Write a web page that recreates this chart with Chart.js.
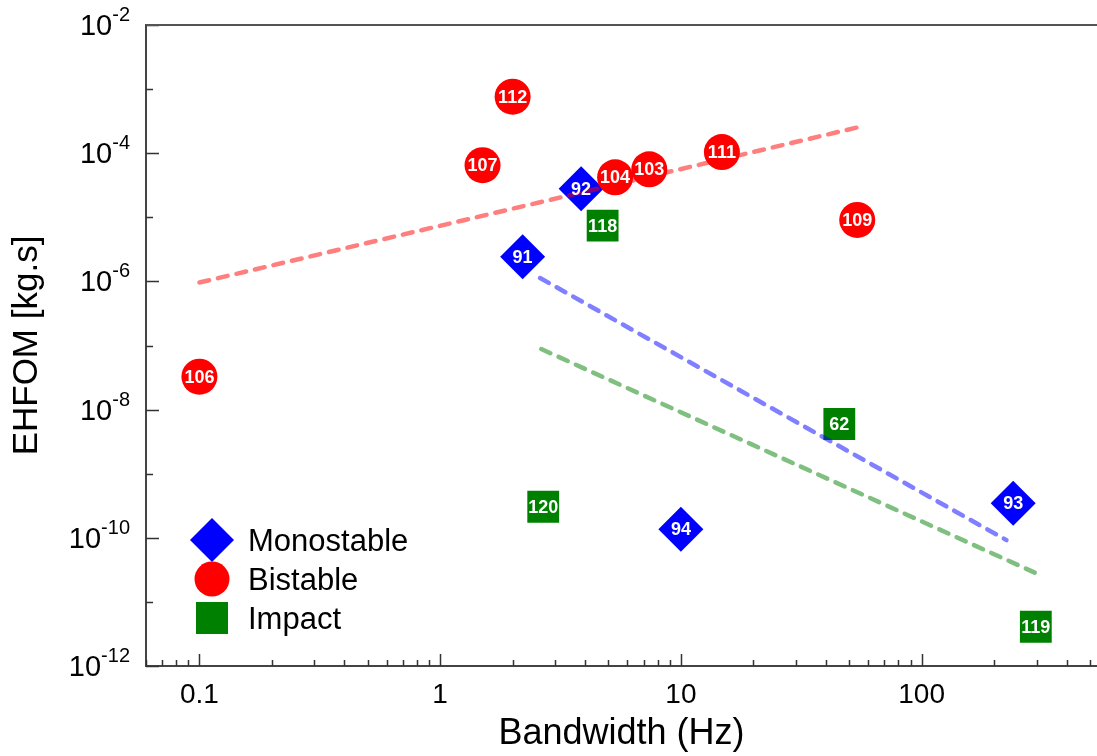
<!DOCTYPE html>
<html>
<head>
<meta charset="utf-8">
<script src="https://cdn.jsdelivr.net/npm/chart.js@4.4.1/dist/chart.umd.min.js"></script>
<style>
html, body { margin: 0; padding: 0; background: #fff; }
canvas { display: block; }
</style>
</head>
<body>
<canvas id="chart" width="1097" height="756"></canvas>
<script>
// ---- data ----
const monoX = [3.85, 2.2, 10, 240];
const monoY = [2.8e-5, 2.43e-6, 1.36e-10, 3.45e-10];
const monoLabels = ['92', '91', '94', '93'];

const biX = [2, 1.5, 7.39, 5.33, 14.8, 54, 0.1];
const biY = [7.6e-4, 6.5e-5, 5.6e-5, 4.2e-5, 1.04e-4, 9.1e-6, 3.26e-8];
const biLabels = ['112', '107', '103', '104', '111', '109', '106'];

const impX = [4.73, 45.5, 2.68, 298];
const impY = [7.4e-6, 5.96e-9, 3.05e-10, 4.1e-12];
const impLabels = ['118', '62', '120', '119'];

// trend lines, end points only
const biFitX = [0.1, 55];
const biFitY = [9.6e-7, 2.56e-4];
const monoFitX = [2.6, 225];
const monoFitY = [1.13e-6, 9.2e-11];
const impFitX = [2.63, 295];
const impFitY = [8.8e-8, 2.86e-11];

const xTickValues = [0.1, 1, 10, 100];
const xTickLabels = ['0.1', '1', '10', '100'];
const yExponents = [-12, -11, -10, -9, -8, -7, -6, -5, -4, -3, -2];
const yLabelEvery = 2;

const legendNames = ['Monostable', 'Bistable', 'Impact'];

const BLUE = '#0000ff', RED = '#ff0000', GREEN = '#008000';
const FONT = "'Liberation Sans', Arial, sans-serif";

function pts(xs, ys){ return xs.map((x, i) => ({ x, y: ys[i] })); }

// ---- helpers ----
function drawShape(ctx, shape, x, y, r, color){
  ctx.save();
  ctx.fillStyle = color;
  ctx.beginPath();
  if(shape === 'circle'){
    ctx.arc(x, y, r, 0, Math.PI * 2);
  } else if(shape === 'rectRot'){
    ctx.moveTo(x, y - r); ctx.lineTo(x + r, y); ctx.lineTo(x, y + r); ctx.lineTo(x - r, y);
    ctx.closePath();
  } else {
    ctx.rect(x - r, y - r, 2 * r, 2 * r);
  }
  ctx.fill();
  ctx.restore();
}

// white numbers on the markers
const markerLabels = {
  id: 'markerLabels',
  afterDatasetsDraw(chart){
    const ctx = chart.ctx;
    ctx.save();
    ctx.fillStyle = '#fff';
    ctx.font = 'bold 18px ' + FONT;
    ctx.textAlign = 'center';
    ctx.textBaseline = 'middle';
    chart.data.datasets.forEach((ds, i) => {
      if(!ds.refLabels) return;
      chart.getDatasetMeta(i).data.forEach((el, j) => {
        ctx.fillText(ds.refLabels[j], el.x, el.y + 1);
      });
    });
    ctx.restore();
  }
};

// inward tick marks, top frame line, y labels with superscripts, legend
const axisDecor = {
  id: 'axisDecor',
  beforeDatasetsDraw(chart){
    const {ctx, chartArea: a, scales} = chart;
    const xs = scales.x, ys = scales.y;
    ctx.save();
    ctx.strokeStyle = '#333';
    ctx.lineWidth = 1.5;
    ctx.beginPath();
    // x ticks
    for(let e = -2; e <= 3; e++){
      for(let k = 1; k <= 9; k++){
        const v = k * Math.pow(10, e);
        if(v < xs.min || v > xs.max) continue;
        const px = Math.round(xs.getPixelForValue(v)) + 0.5;
        const len = k === 1 ? 12 : 6;
        ctx.moveTo(px, a.bottom); ctx.lineTo(px, a.bottom - len);
      }
    }
    // y ticks
    yExponents.forEach(e => {
      const py = Math.round(ys.getPixelForValue(Math.pow(10, e))) + 0.5;
      const len = e % yLabelEvery === 0 ? 13 : 7;
      ctx.moveTo(a.left, py); ctx.lineTo(a.left + len, py);
    });
    ctx.stroke();
    // top frame
    ctx.strokeStyle = '#555';
    ctx.lineWidth = 2;
    ctx.beginPath();
    ctx.moveTo(a.left, a.top); ctx.lineTo(a.right, a.top);
    ctx.stroke();
    ctx.restore();
  },
  afterDraw(chart){
    const {ctx, chartArea: a, scales} = chart;
    const ys = scales.y;
    ctx.save();
    ctx.fillStyle = '#000';
    ctx.textBaseline = 'alphabetic';
    ctx.textAlign = 'right';
    const rightEdge = a.left - 16;
    yExponents.forEach(e => {
      if(e % yLabelEvery !== 0) return;
      const py = ys.getPixelForValue(Math.pow(10, e));
      const sup = String(e);
      ctx.font = '20px ' + FONT;
      const w = ctx.measureText(sup).width;
      ctx.fillText(sup, rightEdge, py - 4);
      ctx.font = '29px ' + FONT;
      ctx.fillText('10', rightEdge - w, py + 10);
    });

    // legend
    const shapes = ['rectRot', 'circle', 'rect'];
    const colors = [BLUE, RED, GREEN];
    const radii = [22, 17.5, 16];
    const rowY = [a.bottom - 126, a.bottom - 87, a.bottom - 48];
    ctx.textAlign = 'left';
    ctx.font = '31px ' + FONT;
    legendNames.forEach((name, i) => {
      drawShape(ctx, shapes[i], a.left + 66, rowY[i], radii[i], colors[i]);
      ctx.fillStyle = '#000';
      ctx.fillText(name, a.left + 102, rowY[i] + 11);
    });
    ctx.restore();
  }
};

function fitLine(xs, ys, color){
  return {
    type: 'line',
    data: pts(xs, ys),
    borderColor: color,
    borderWidth: 4.5,
    borderDash: [10, 9],
    borderCapStyle: 'round',
    pointRadius: 0,
    fill: false,
    order: 0
  };
}

function markerSet(name, xs, ys, labels, shape, r, color, order){
  return {
    label: name,
    data: pts(xs, ys),
    refLabels: labels,
    pointStyle: shape,
    pointRadius: r,
    pointHoverRadius: r,
    backgroundColor: color,
    borderWidth: 0,
    order
  };
}

const chart = new Chart(document.getElementById('chart'), {
  type: 'scatter',
  data: {
    datasets: [
      fitLine(biFitX, biFitY, 'rgba(255,0,0,0.5)'),
      fitLine(monoFitX, monoFitY, 'rgba(0,0,255,0.5)'),
      fitLine(impFitX, impFitY, 'rgba(0,128,0,0.5)'),
      markerSet('Bistable', biX, biY, biLabels, 'circle', 18, RED, 1),
      markerSet('Monostable', monoX, monoY, monoLabels, 'rectRot', 22.5, BLUE, 2),
      markerSet('Impact', impX, impY, impLabels, 'rect', 22.5, GREEN, 3)
    ]
  },
  options: {
    responsive: false,
    devicePixelRatio: 1,
    animation: false,
    layout: { autoPadding: false, padding: { top: 25, right: 0, left: 0, bottom: 0 } },
    plugins: { legend: { display: false }, tooltip: { enabled: false } },
    scales: {
      x: {
        type: 'logarithmic',
        min: 0.06,
        max: 535,
        afterBuildTicks: s => { s.ticks = xTickValues.map(v => ({ value: v })); },
        afterFit: s => { s.height = 90; s.paddingLeft = 0; s.paddingRight = 0; },
        ticks: {
          padding: 12,
          color: '#000',
          font: { family: FONT, size: 28 },
          callback: (v) => xTickLabels[xTickValues.indexOf(v)] ?? ''
        },
        grid: { display: true, drawOnChartArea: false, drawTicks: false },
        border: { display: true, color: '#444', width: 2 },
        title: {
          display: true,
          text: 'Bandwidth (Hz)',
          color: '#000',
          font: { family: FONT, size: 36 },
          padding: { top: 0, bottom: 0 }
        }
      },
      y: {
        type: 'logarithmic',
        min: 1e-12,
        max: 1e-2,
        afterBuildTicks: s => { s.ticks = yExponents.map(e => ({ value: Math.pow(10, e) })); },
        afterFit: s => { s.width = 146; s.paddingTop = 0; s.paddingBottom = 0; },
        ticks: { display: false },
        grid: { display: true, drawOnChartArea: false, drawTicks: false },
        border: { display: true, color: '#444', width: 2 },
        title: {
          display: true,
          text: 'EHFOM [kg.s]',
          color: '#000',
          font: { family: FONT, size: 35 },
          padding: { top: 6, bottom: 0 }
        }
      }
    }
  },
  plugins: [axisDecor, markerLabels]
});
</script>
</body>
</html>
